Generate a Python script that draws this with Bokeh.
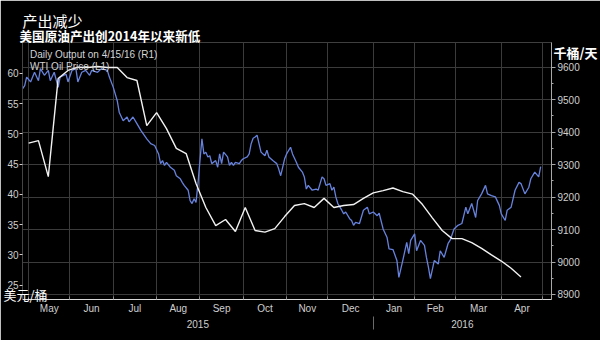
import numpy as np
import pandas as pd
from bokeh.plotting import figure
from bokeh.models import Range1d, LinearAxis, FixedTicker, Grid, Legend, LegendItem, Title
from bokeh.embed import file_html
from bokeh.resources import INLINE

# ---------------- data ----------------
title_text = "产出减少"
subtitle_text = "美国原油产出创2014年以来新低"
left_unit = "美元/桶"
right_unit = "千桶/天"
output_label = "Daily Output on 4/15/16 (R1)"
wti_label = "WTI Oil Price (L1)"

wti_dates = [
    "2015-04-28", "2015-04-29", "2015-04-30", "2015-05-04", "2015-05-06", "2015-05-08", "2015-05-11",
    "2015-05-13", "2015-05-15", "2015-05-18", "2015-05-20", "2015-05-22", "2015-05-25", "2015-05-28",
    "2015-05-29", "2015-06-02", "2015-06-04", "2015-06-05", "2015-06-09", "2015-06-11", "2015-06-15",
    "2015-06-16", "2015-06-19", "2015-06-23", "2015-06-26", "2015-06-29", "2015-07-01", "2015-07-03",
    "2015-07-06", "2015-07-08", "2015-07-10", "2015-07-13", "2015-07-15", "2015-07-17", "2015-07-21",
    "2015-07-24", "2015-07-28", "2015-07-30", "2015-08-03", "2015-08-04", "2015-08-05", "2015-08-06",
    "2015-08-07", "2015-08-11", "2015-08-13", "2015-08-14", "2015-08-18", "2015-08-19", "2015-08-20",
    "2015-08-24", "2015-08-25", "2015-08-26", "2015-08-27", "2015-08-28", "2015-08-31", "2015-09-01",
    "2015-09-02", "2015-09-03", "2015-09-04", "2015-09-07", "2015-09-08", "2015-09-09", "2015-09-11",
    "2015-09-14", "2015-09-15", "2015-09-16", "2015-09-17", "2015-09-21", "2015-09-22", "2015-09-23",
    "2015-09-24", "2015-09-25", "2015-09-29", "2015-09-30", "2015-10-01", "2015-10-05", "2015-10-06",
    "2015-10-07", "2015-10-08", "2015-10-09", "2015-10-12", "2015-10-13", "2015-10-14", "2015-10-16",
    "2015-10-19", "2015-10-20", "2015-10-22", "2015-10-26", "2015-10-27", "2015-10-28", "2015-10-30",
    "2015-11-02", "2015-11-04", "2015-11-05", "2015-11-09", "2015-11-10", "2015-11-12", "2015-11-13",
    "2015-11-16", "2015-11-17", "2015-11-19", "2015-11-23", "2015-11-24", "2015-11-26", "2015-11-27",
    "2015-11-30", "2015-12-02", "2015-12-03", "2015-12-04", "2015-12-07", "2015-12-08", "2015-12-10",
    "2015-12-11", "2015-12-14", "2015-12-16", "2015-12-17", "2015-12-18", "2015-12-21", "2015-12-23",
    "2015-12-25", "2015-12-29", "2015-12-30", "2016-01-01", "2016-01-05", "2016-01-06", "2016-01-08",
    "2016-01-12", "2016-01-13", "2016-01-15", "2016-01-19", "2016-01-20", "2016-01-22", "2016-01-26",
    "2016-01-27", "2016-01-28", "2016-02-01", "2016-02-02", "2016-02-04", "2016-02-08", "2016-02-09",
    "2016-02-10", "2016-02-11", "2016-02-15", "2016-02-17", "2016-02-18", "2016-02-22", "2016-02-24",
    "2016-02-25", "2016-02-29", "2016-03-02", "2016-03-04", "2016-03-08", "2016-03-09", "2016-03-11",
    "2016-03-15", "2016-03-16", "2016-03-18", "2016-03-22", "2016-03-23", "2016-03-25", "2016-03-29",
    "2016-03-31", "2016-04-01", "2016-04-05", "2016-04-06", "2016-04-08", "2016-04-12", "2016-04-14",
    "2016-04-15", "2016-04-19", "2016-04-21", "2016-04-22", "2016-04-26", "2016-04-28", "2016-04-29",
]
wti_price = [
    57.5, 58.0, 59.4, 58.6, 60.2, 58.8, 60.8, 59.7, 60.5, 58.8,
    60.2, 57.7, 59.4, 59.9, 58.6, 60.5, 60.8, 58.6, 60.2, 60.5,
    59.7, 60.5, 60.2, 60.8, 60.5, 59.4, 57.7, 55.5, 53.6, 52.2,
    52.8, 52.0, 52.8, 51.7, 50.6, 49.2, 48.4, 48.1, 46.7, 45.1,
    45.6, 44.8, 45.3, 44.5, 44.0, 43.1, 42.6, 42.0, 41.5, 40.7,
    39.0, 38.5, 39.3, 38.7, 41.8, 45.6, 49.2, 46.7, 47.0, 46.2,
    46.4, 45.1, 45.6, 44.5, 46.7, 45.1, 47.0, 46.2, 44.8, 45.3,
    44.8, 45.3, 45.1, 45.6, 45.9, 46.2, 46.7, 48.4, 49.3, 49.5,
    49.8, 48.4, 47.0, 46.4, 47.3, 46.2, 45.6, 45.1, 44.2, 43.1,
    45.9, 46.7, 47.8, 46.7, 45.3, 44.5, 43.7, 42.9, 40.9, 41.5,
    40.7, 40.9, 40.7, 42.9, 42.6, 41.5, 41.8, 40.7, 41.2, 39.6,
    38.5, 37.4, 36.8, 37.1, 36.0, 35.7, 34.9, 35.4, 35.2, 37.4,
    37.9, 36.8, 37.1, 36.5, 36.9, 34.3, 32.9, 31.0, 30.9, 29.1,
    26.3, 29.1, 32.1, 30.2, 32.4, 33.5, 30.7, 32.4, 31.6, 29.6,
    28.0, 26.1, 29.1, 28.5, 30.7, 29.6, 31.9, 32.4, 34.3, 34.9,
    35.2, 37.9, 36.8, 38.5, 36.2, 39.0, 40.1, 41.5, 40.1, 39.8,
    39.6, 38.2, 36.8, 35.7, 37.4, 37.9, 40.7, 42.0, 41.8, 40.1,
    41.2, 42.6, 43.7, 42.9, 44.6,
]

# weekly (Friday) US crude output, thousand barrels per day
output_dates = pd.date_range("2015-05-01", "2016-04-15", freq="7D")
output_kbd = [
    9366, 9374, 9263, 9565, 9590, 9600, 9599, 9602, 9599, 9599,
    9568, 9559, 9420, 9460, 9411, 9350, 9334, 9242, 9168, 9112,
    9131, 9094, 9168, 9097, 9092, 9103, 9140, 9174, 9180, 9168,
    9196, 9168, 9174, 9177, 9196, 9213, 9220, 9228, 9217, 9209,
    9177, 9136, 9097, 9072, 9072, 9060, 9042, 9022, 9003, 8981,
    8954,
]

month_starts = ["2015-05-01", "2015-06-01", "2015-07-01", "2015-08-01", "2015-09-01",
                "2015-10-01", "2015-11-01", "2015-12-01", "2016-01-01", "2016-02-01",
                "2016-03-01", "2016-04-01", "2016-05-01"]
month_labels = ["May", "Jun", "Jul", "Aug", "Sep", "Oct", "Nov", "Dec",
                "Jan", "Feb", "Mar", "Apr"]
year_labels = ["2015", "2016"]
year_break = "2016-01-01"
view_start, view_end = "2015-04-28", "2016-05-06"
left_ticks = [25, 30, 35, 40, 45, 50, 55, 60]
right_ticks = [8900, 9000, 9100, 9200, 9300, 9400, 9500, 9600]
right_minor = [8950, 9050, 9150, 9250, 9350, 9450, 9550]
left_unit_at = 23.47     # $/bbl level beside which the left unit sits
right_unit_at = 9645.0   # kb/d level beside which the right unit sits

# ---------------- trading-day time scale (weekdays only) ----------------
BASE = np.datetime64("2015-10-01")


def tday(d):
    arr = np.array(pd.to_datetime(pd.Series(np.atleast_1d(d))).values, dtype="datetime64[D]")
    return np.busday_count(BASE, arr).astype(float)


wti_x = tday(wti_dates)
out_x = tday(list(output_dates))
ms_x = tday(month_starts)
month_mid = [float((ms_x[i] + ms_x[i + 1]) / 2.0) for i in range(len(month_labels))]
x0 = float(tday([view_start])[0]) - 0.1
x1 = float(tday([view_end])[0]) + 0.5
jan = float(tday([year_break])[0])
year_mid = [(x0 + jan) / 2.0, (jan + x1) / 2.0]

FONT = "Liberation Sans"
CJK = "Noto Sans CJK SC"
TXT = "#cfcfcf"
GRID = "#3b3b3b"

p = figure(width=600, height=340, x_range=Range1d(x0, x1), y_range=Range1d(22.64, 65.12),
           x_axis_type=None, y_axis_type=None, toolbar_location=None, output_backend="svg",
           title_location=None,
           background_fill_color="black", border_fill_color="black", outline_line_color=None,
           min_border_left=18, min_border_right=46, min_border_top=42, min_border_bottom=41)
p.extra_y_ranges = {"right": Range1d(8884.6, 9676.1)}

# grids
p.add_layout(Grid(dimension=0, ticker=FixedTicker(ticks=[float(v) for v in ms_x]), grid_line_color=GRID))
p.add_layout(Grid(dimension=1, y_range_name="right", ticker=FixedTicker(ticks=right_ticks),
                  grid_line_color=GRID))


def bare(ax):
    ax.axis_line_color = None
    ax.major_tick_line_color = None
    ax.minor_tick_line_color = None
    ax.major_tick_out = 0
    ax.major_tick_in = 0
    ax.minor_tick_out = 0
    ax.minor_tick_in = 0


# left axis
la = LinearAxis(ticker=FixedTicker(ticks=left_ticks, minor_ticks=[]))
la.axis_line_color = "#444444"
la.major_tick_line_color = TXT
la.major_tick_out = 3
la.major_tick_in = 0
la.major_label_standoff = 1
la.major_label_text_font = FONT
la.major_label_text_font_size = "10px"
la.major_label_text_color = TXT
p.add_layout(la, "left")

# left unit text (zero-width axis holding a single label)
lu = LinearAxis(ticker=FixedTicker(ticks=[left_unit_at], minor_ticks=[]))
bare(lu)
lu.major_label_overrides = {left_unit_at: left_unit}
lu.major_label_standoff = -43
lu.major_label_text_font = CJK
lu.major_label_text_font_size = "13px"
lu.major_label_text_color = "white"
p.add_layout(lu, "left")

# right axis
ra = LinearAxis(y_range_name="right", ticker=FixedTicker(ticks=right_ticks, minor_ticks=right_minor))
ra.axis_line_color = "#a8a8a8"
ra.major_tick_line_color = "#a8a8a8"
ra.minor_tick_line_color = "#a8a8a8"
ra.major_tick_out = 4
ra.major_tick_in = 0
ra.minor_tick_out = 2
ra.minor_tick_in = 0
ra.major_label_standoff = 2
ra.major_label_text_font = FONT
ra.major_label_text_font_size = "10px"
ra.major_label_text_color = TXT
p.add_layout(ra, "right")

# right unit text
ru = LinearAxis(y_range_name="right", ticker=FixedTicker(ticks=[right_unit_at], minor_ticks=[]))
bare(ru)
ru.major_label_overrides = {right_unit_at: right_unit}
ru.major_label_standoff = -29
ru.major_label_text_font = CJK
ru.major_label_text_font_size = "13px"
ru.major_label_text_font_style = "bold"
ru.major_label_text_color = "white"
p.add_layout(ru, "right")

# month axis
ma = LinearAxis(ticker=FixedTicker(ticks=month_mid, minor_ticks=[float(v) for v in ms_x]))
ma.major_label_overrides = {k: v for k, v in zip(month_mid, month_labels)}
ma.axis_line_color = "#d8d8d8"
ma.major_tick_line_color = None
ma.minor_tick_line_color = "#8a8a8a"
ma.minor_tick_in = 3
ma.minor_tick_out = 0
ma.major_tick_out = 0
ma.major_tick_in = 0
ma.major_label_standoff = 3
ma.major_label_text_font = FONT
ma.major_label_text_font_size = "10px"
ma.major_label_text_color = TXT
p.add_layout(ma, "below")

# year axis (separator drawn as a long minor tick at the year break)
ya = LinearAxis(ticker=FixedTicker(ticks=year_mid, minor_ticks=[jan]))
ya.major_label_overrides = {k: v for k, v in zip(year_mid, year_labels)}
ya.axis_line_color = None
ya.major_tick_line_color = None
ya.minor_tick_line_color = "#6a6a6a"
ya.minor_tick_out = 13
ya.minor_tick_in = 0
ya.major_tick_out = 0
ya.major_tick_in = 0
ya.major_label_standoff = -10
ya.major_label_text_font = FONT
ya.major_label_text_font_size = "10px"
ya.major_label_text_color = TXT
p.add_layout(ya, "below")

# titles
p.add_layout(Title(text=subtitle_text, align="left", offset=-3, standoff=-4,
                   text_font=CJK, text_font_size="12.6px", text_font_style="bold",
                   text_color="white"), "above")
p.add_layout(Title(text=title_text, align="left", offset=0, standoff=-10,
                   text_font=CJK, text_font_size="15px", text_font_style="normal",
                   text_color="white"), "above")

# series
p.line(wti_x, wti_price, line_color="#6682dc", line_width=1.3)
p.line(out_x, output_kbd, y_range_name="right", line_color="#f2f2f2", line_width=1.4)

# legend (square swatches)
sw_out = p.quad(left=[], right=[], top=[], bottom=[], fill_color="#ffffff", line_color=None)
sw_wti = p.quad(left=[], right=[], top=[], bottom=[], fill_color="#4f72d8", line_color=None)
legend = Legend(items=[LegendItem(label=output_label, renderers=[sw_out]),
                       LegendItem(label=wti_label, renderers=[sw_wti])],
                location="top_left", margin=0, padding=6, spacing=-5,
                title=" ", title_text_font_size="1px", title_standoff=5,
                glyph_width=7, glyph_height=7, label_height=12, label_standoff=1,
                label_text_font=FONT, label_text_font_size="10px", label_text_color="#d4d4d4",
                background_fill_alpha=0, border_line_color=None)
p.add_layout(legend)

open("out.html", "w").write(file_html(p, INLINE))
